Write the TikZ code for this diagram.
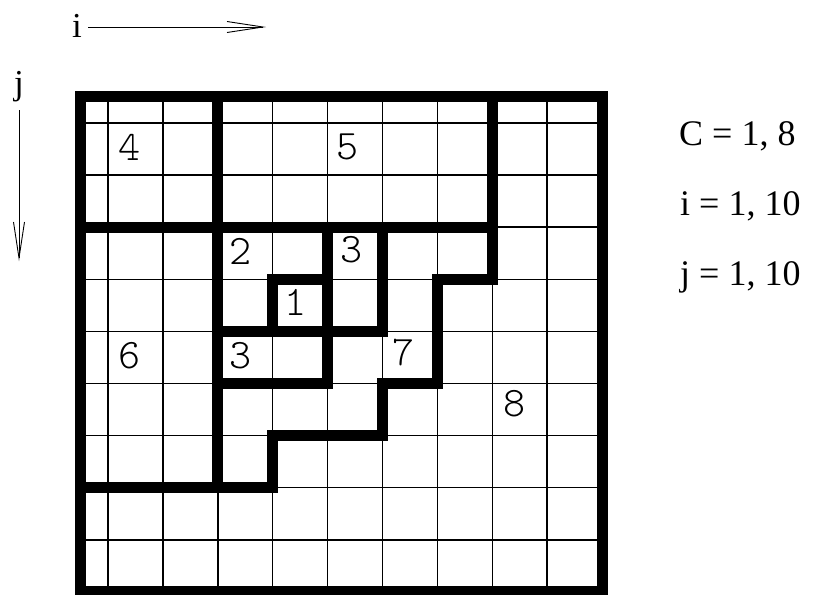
\documentclass[tikz,border=0pt]{standalone}
\usepackage{fontspec}
\setmainfont{Liberation Serif}
\newfontfamily\digitfont{lmmonolt10-regular.otf}
\usetikzlibrary{arrows.meta}
\begin{document}
\begin{tikzpicture}[x=1pt,y=-1pt,
  thinline/.style={line width=1.5pt},
  thickline/.style={line width=11pt, line cap=rect, line join=miter},
  digitlabel/.style={font=\digitfont\fontsize{42}{42}\selectfont, inner sep=0pt},
  rtext/.style={font=\fontsize{36}{36}\selectfont, inner sep=0pt, anchor=base west},
  axislab/.style={font=\fontsize{35}{35}\selectfont, inner sep=0pt, anchor=base},
  axisarrow/.style={line width=0.9pt, -{Straight Barb[length=36pt,width=11pt,line width=0.9pt]}}]
\useasboundingbox (0,0) rectangle (815,595);

% axes
\node[axislab] (ilab) at (77,37) {i};
\coordinate (istart) at (88,27);
\coordinate (iend) at (266,27);
\draw[axisarrow] (istart) -- (iend);
\node[axislab] (jlab) at (19,94.5) {j};
\coordinate (jstart) at (19,110);
\coordinate (jend) at (19,261);
\draw[axisarrow] (jstart) -- (jend);

% right-hand text
\node[rtext] (cline) at (679,145) {C = 1, 8};
\node[rtext] (iline) at (680,215) {i = 1, 10};
\node[rtext] (jline) at (680,285) {j = 1, 10};

\begin{scope}[shift={(53.1pt,-70.9pt)}, x=54.9pt, y=-52.1pt]
  % thin grid
  \foreach \c in {1,...,9} \draw[thinline] (\c,0.5) -- (\c,10);
  \foreach \r in {1,...,9} \draw[thinline] (0.5,\r) -- (10,\r);
  % thick outer border
  \draw[thickline] (0.5,0.5) rectangle (10,10);
  % region boundaries
  \draw[thickline] (3,0.5) -- (3,8);
  \draw[thickline] (0.5,3) -- (8,3);
  \draw[thickline] (8,0.5) -- (8,4) -- (7,4) -- (7,6) -- (6,6) -- (6,7) -- (4,7) -- (4,8) -- (0.5,8);
  \draw[thickline] (6,3) -- (6,5);
  \draw[thickline] (3,5) -- (6,5);
  \draw[thickline] (5,3) -- (5,6);
  \draw[thickline] (3,6) -- (5,6);
  \draw[thickline] (4,4) rectangle (5,5);
  % region numbers
  \node[digitlabel] (d4) at (1.40,1.46) {4};
  \node[digitlabel] (d5) at (5.37,1.46) {5};
  \node[digitlabel] (d2) at (3.42,3.46) {2};
  \node[digitlabel] (d3a) at (5.43,3.44) {3};
  \node[digitlabel] (d1) at (4.42,4.44) {1};
  \node[digitlabel] (d3b) at (3.42,5.47) {3};
  \node[digitlabel] (d6) at (1.40,5.47) {6};
  \node[digitlabel] (d7) at (6.39,5.41) {7};
  \node[digitlabel] (d8) at (8.40,6.39) {8};
\end{scope}
\end{tikzpicture}
\end{document}
